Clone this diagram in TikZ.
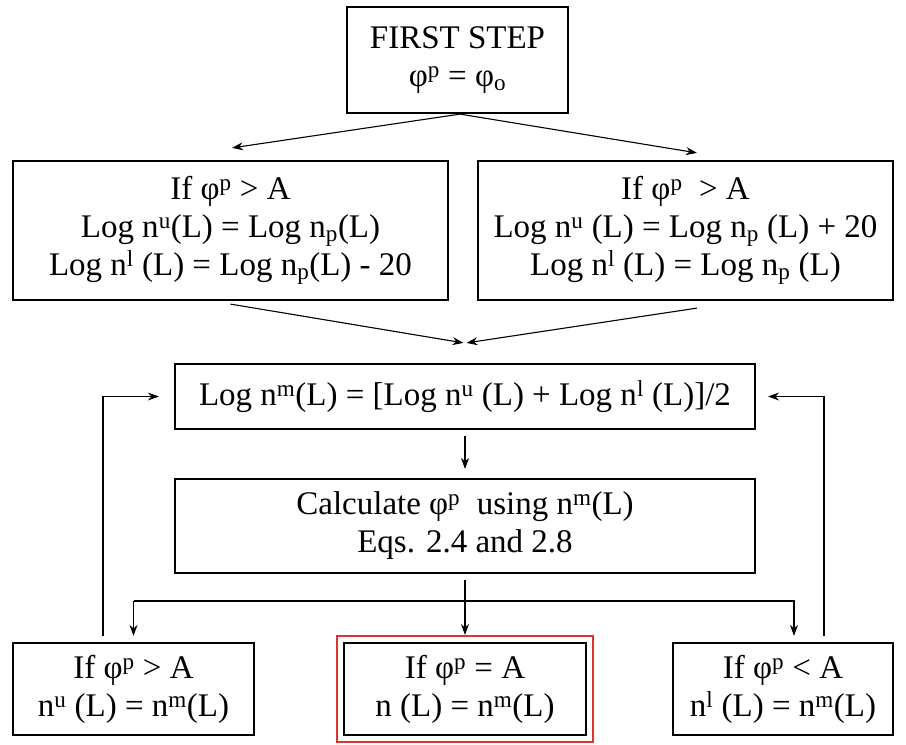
\documentclass[tikz,border=0pt]{standalone}
\usepackage{fontspec}
\setmainfont{Liberation Serif}
\usetikzlibrary{arrows.meta}
\definecolor{hlred}{RGB}{222,52,48}
\newcommand{\mysp}[1]{\textsuperscript{#1}}
\newcommand{\mysb}[1]{\textsubscript{#1}}
\begin{document}
\begin{tikzpicture}[x=1pt,y=-1pt,
  box/.style={draw,line width=2.2pt,align=center,inner sep=0pt,
    font=\fontsize{33}{38}\selectfont},
  arr/.style={line width=1.1pt,-{Stealth[length=11pt,width=8pt]}},
  ln/.style={line width=1.1pt}]
\useasboundingbox (0,0) rectangle (906,745);
\node[box,minimum width=221pt,minimum height=106pt] (top) at (457.5,60) {FIRST STEP\\φ\mysp{p} = φ\mysb{o}};
\node[box,minimum width=435pt,minimum height=139pt] (lb) at (230.5,230.5) {If φ\mysp{p} > A\\Log n\mysp{u}(L) = Log n\mysb{p}(L)\\Log n\mysp{l} (L) = Log n\mysb{p}(L) - 20};
\node[box,minimum width=415pt,minimum height=139pt] (rb) at (685.5,230.5) {If φ\mysp{p}\ \ > A\\Log n\mysp{u} (L) = Log n\mysb{p} (L) + 20\\Log n\mysp{l} (L) = Log n\mysb{p} (L)};
\node[box,minimum width=580pt,minimum height=65pt] (mid) at (465,396.5) {Log n\mysp{m}(L) = [Log n\mysp{u} (L) + Log n\mysp{l} (L)]/2};
\node[box,minimum width=580pt,minimum height=94pt] (calc) at (465,526) {Calculate φ\mysp{p}\ \ using n\mysp{m}(L)\\Eqs. 2.4 and 2.8};
\node[box,minimum width=241pt,minimum height=92pt] (bl) at (133.5,689) {If φ\mysp{p} > A\\n\mysp{u} (L) = n\mysp{m}(L)};
\node[box,minimum width=242pt,minimum height=92pt] (bc) at (465,689) {If φ\mysp{p} = A\\n (L) = n\mysp{m}(L)};
\node[draw=hlred,line width=2pt,minimum width=256pt,minimum height=106pt,inner sep=0pt] (red) at (bc.center) {};
\node[box,minimum width=220pt,minimum height=92pt] (br) at (783,689) {If φ\mysp{p} < A\\n\mysp{l} (L) = n\mysp{m}(L)};
% arrows
\draw[arr] ([xshift=2.5pt]top.south) -- ([xshift=1.5pt,yshift=12pt]lb.north);
\draw[arr] ([xshift=2.5pt]top.south) -- ([xshift=11.5pt,yshift=7pt]rb.north);
\draw[arr] ([yshift=-3pt]lb.south) -- ([xshift=-1.5pt,yshift=20pt]mid.north);
\draw[arr] ([xshift=11.5pt,yshift=-7pt]rb.south) -- ([xshift=1.5pt,yshift=20pt]mid.north);
\draw[arr] ([yshift=-6pt]mid.south) -- ([yshift=9pt]calc.north);
\draw[arr] ([yshift=-6pt]calc.south) -- (red.north);
\coordinate (hl) at (133.5,601);
\draw[arr] (hl) -- ([yshift=6pt]bl.north);
\draw[arr] (hl) -| ([xshift=11pt,yshift=6pt]br.north);
\draw[arr] ([xshift=-30.5pt,yshift=6pt]bl.north) |- ([xshift=-15pt]mid.west);
\draw[arr] ([xshift=41pt,yshift=6pt]br.north) |- ([xshift=12pt]mid.east);
\end{tikzpicture}
\end{document}
